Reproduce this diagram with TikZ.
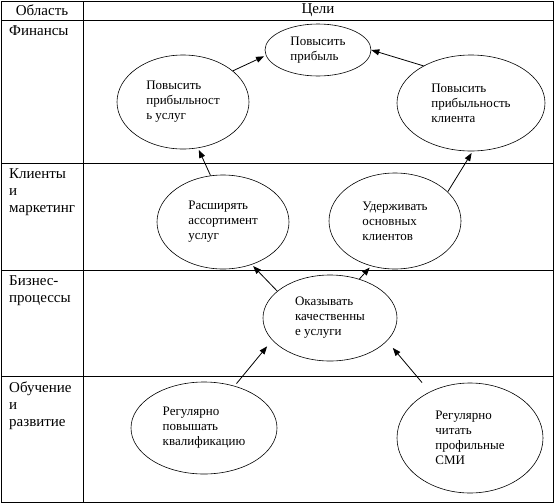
\documentclass[tikz,border=0pt]{standalone}
\usepackage{fontspec}
\setmainfont{Liberation Serif}
\usetikzlibrary{shapes.geometric,arrows.meta}

\begin{document}
\begin{tikzpicture}[x=1pt,y=-1pt,
  rule/.style={line width=0.8pt},
  head/.style={inner sep=0pt,font=\fontsize{15}{17}\selectfont},
  area/.style={anchor=north west,inner sep=0pt,align=left,font=\fontsize{15}{17}\selectfont},
  goal/.style={draw,ellipse,line width=0.6pt,inner sep=0pt,align=left,font=\fontsize{13}{15}\selectfont},
  lead/.style={-{Triangle[length=8pt,width=6pt]},line width=0.8pt,shorten >=2pt}]
  \useasboundingbox (0,0) rectangle (555,504);
  % table frame
  \draw[rule] (1.5,1.5) rectangle (553.5,502.5);
  \draw[rule] (83,1.5) -- (83,502.5);
  \draw[rule] (1.5,20) -- (553.5,20);
  \draw[rule] (1.5,163) -- (553.5,163);
  \draw[rule] (1.5,270) -- (553.5,270);
  \draw[rule] (1.5,376) -- (553.5,376);
  \node[head] (hdarea) at (42,10.5) {Область};
  \node[head] (hdgoals) at (318,10.5) {Цели};
  \node[area] (finance) at (9,25.5) {Финансы};
  \node[area] (market) at (9,168.5) {Клиенты\\и\\маркетинг};
  \node[area] (process) at (9,275.5) {Бизнес-\\процессы};
  \node[area] (growth) at (9,381.5) {Обучение\\и\\развитие};
  % goals
  \node[goal,minimum width=106pt,minimum height=52pt] (profit) at (318,50) {Повысить\\прибыль};
  \node[goal,minimum width=132pt,minimum height=94pt] (svcprofit) at (183,102) {Повысить\\прибыльност\\ь услуг};
  \node[goal,minimum width=148pt,minimum height=96pt] (clprofit) at (471,103) {Повысить\\прибыльность\\клиента};
  \node[goal,minimum width=132pt,minimum height=94pt] (assort) at (223,222) {Расширять\\ассортимент\\услуг};
  \node[goal,minimum width=132pt,minimum height=96pt] (retain) at (395,221) {Удерживать\\основных\\клиентов};
  \node[goal,minimum width=134pt,minimum height=86pt] (quality) at (330,318) {Оказывать\\качественны\\е услуги};
  \node[goal,minimum width=146pt,minimum height=92pt] (qualify) at (204,428) {Регулярно\\повышать\\квалификацию};
  \node[goal,minimum width=146pt,minimum height=110pt] (media) at (470,438) {Регулярно\\читать\\профильные\\СМИ};
  % links
  \draw[lead] (svcprofit.32) -- (profit.186);
  \draw[lead,shorten >=0pt] (clprofit.142) -- (profit.0);
  \draw[lead] (assort.105) -- (svcprofit.-72);
  \draw[lead] (retain.29) -- (clprofit.-88);
  \draw[lead] (quality.153) -- (assort.-56);
  \draw[lead] (quality.53) -- (retain.-118);
  \draw[lead,shorten >=8pt,shorten <=3pt] (qualify.54) -- (quality.201);
  \draw[lead,shorten >=9pt,shorten <=12pt] (media.131) -- (quality.-22);
\end{tikzpicture}
\end{document}
